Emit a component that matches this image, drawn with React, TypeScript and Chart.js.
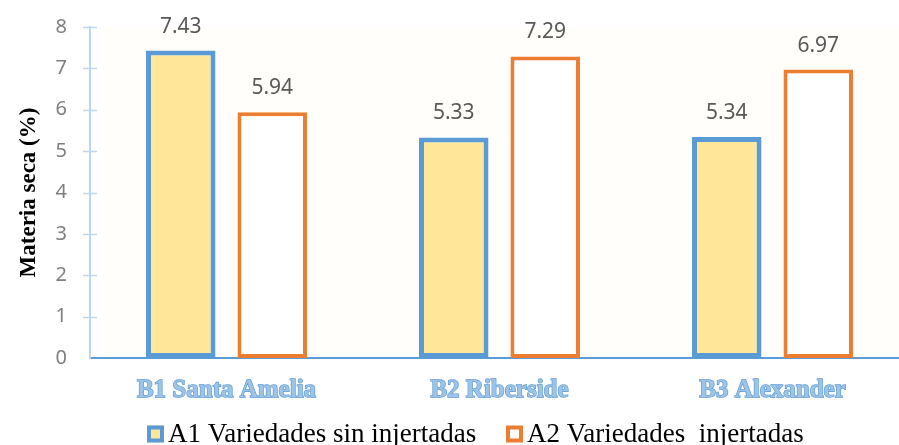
import React, { useEffect, useRef } from "react";
import { Chart, registerables } from "chart.js";

Chart.register(...registerables);

const categories = ["B1 Santa Amelia", "B2 Riberside", "B3 Alexander"];
const seriesNames = ["A1 Variedades sin injertadas", "A2 Variedades  injertadas"];
const a1Values = [7.43, 5.33, 5.34];
const a2Values = [5.94, 7.29, 6.97];
const yTicks = [0, 1, 2, 3, 4, 5, 6, 7, 8];
const yTitle = "Materia seca (%)";

const BLUE = "#5b9bd5";
const ORANGE = "#ed7d31";
const YELLOW = "#ffe699";

export default function App() {
  const ref = useRef<HTMLCanvasElement | null>(null);

  useEffect(() => {
    document.body.style.margin = "0";
    document.documentElement.style.overflow = "hidden";
    document.body.style.overflow = "hidden";
    const canvas = ref.current;
    if (!canvas) return;

    const bgPlugin = {
      id: "bg",
      beforeDraw(chart: any) {
        const { ctx, chartArea } = chart;
        ctx.save();
        ctx.fillStyle = "#fffefa";
        ctx.fillRect(chartArea.left + 14, chartArea.top, chartArea.right - chartArea.left - 14, chartArea.bottom - chartArea.top);
        ctx.restore();
      },
    };

    const tickMarks = {
      id: "tickMarks",
      afterDraw(chart: any) {
        const { ctx } = chart;
        const y = chart.scales.y;
        const x0 = chart.chartArea.left;
        ctx.save();
        ctx.strokeStyle = "#bdd7ee";
        ctx.lineWidth = 1.5;
        yTicks.forEach((v) => {
          if (v === 0) return;
          const py = Math.round(y.getPixelForValue(v)) + 0.5;
          ctx.beginPath();
          ctx.moveTo(x0 - 7, py);
          ctx.lineTo(x0 + 7, py);
          ctx.stroke();
        });
        ctx.restore();
      },
    };

    const dataLabels = {
      id: "dataLabels",
      afterDatasetsDraw(chart: any) {
        const { ctx } = chart;
        ctx.save();
        ctx.font = "21px 'Noto Sans'";
        ctx.fillStyle = "#595959";
        ctx.textAlign = "center";
        ctx.textBaseline = "middle";
        chart.data.datasets.forEach((ds: any, i: number) => {
          const meta = chart.getDatasetMeta(i);
          meta.data.forEach((el: any, j: number) => {
            ctx.fillText(ds.data[j].toFixed(2), el.x, el.y - 24);
          });
        });
        ctx.restore();
      },
    };

    const customLegend = {
      id: "customLegend",
      afterDraw(chart: any) {
        const { ctx } = chart;
        ctx.save();
        ctx.font = "27px 'Liberation Serif'";
        ctx.textBaseline = "middle";
        ctx.textAlign = "left";
        const yc = 434;
        const starts = [147, 506];
        chart.data.datasets.forEach((ds: any, i: number) => {
          const x = starts[i];
          const s = 17;
          ctx.fillStyle = ds.backgroundColor;
          ctx.fillRect(x, yc - s / 2, s, s);
          ctx.strokeStyle = ds.borderColor;
          ctx.lineWidth = 4;
          ctx.strokeRect(x + 2, yc - s / 2 + 2, s - 4, s - 4);
          ctx.fillStyle = "#000000";
          ctx.fillText(ds.label, x + s + 4, yc + 1);
        });
        ctx.restore();
      },
    };

    const chart = new Chart(canvas, {
      type: "bar",
      data: {
        labels: categories,
        datasets: [
          {
            label: seriesNames[0],
            data: a1Values,
            backgroundColor: YELLOW,
            borderColor: BLUE,
            borderWidth: 5,
            borderSkipped: false,
            barPercentage: 0.76,
            categoryPercentage: 0.67,
          },
          {
            label: seriesNames[1],
            data: a2Values,
            backgroundColor: "#ffffff",
            borderColor: ORANGE,
            borderWidth: 4,
            borderSkipped: false,
            barPercentage: 0.76,
            categoryPercentage: 0.67,
          },
        ],
      },
      options: {
        animation: false,
        responsive: false,
        maintainAspectRatio: false,
        layout: { padding: { top: 27, right: 0, bottom: 0, left: 0 } },
        plugins: {
          legend: { display: false },
          tooltip: { enabled: false },
        },
        scales: {
          x: {
            grid: { display: false, drawTicks: false },
            border: { display: true, color: BLUE, width: 2 },
            ticks: {
              color: "#9dc3e6",
              textStrokeColor: BLUE,
              textStrokeWidth: 1.3,
              font: { family: "'Liberation Serif'", size: 25, weight: "bold" },
              padding: 18,
            },
            afterFit(scale: any) {
              scale.height = 445 - 358;
            },
          },
          y: {
            min: 0,
            max: 8,
            grid: { display: false, drawTicks: true, tickLength: 20 },
            border: { display: true, color: "#bdd7ee", width: 2 },
            ticks: {
              stepSize: 1,
              color: "#7f7f7f",
              font: { family: "'Noto Sans'", size: 20 },
              padding: 3,
            },
            title: {
              display: true,
              text: yTitle,
              color: "#000000",
              font: { family: "'Liberation Serif'", size: 23, weight: "bold" },
              padding: { top: 15, bottom: 0 },
            },
            afterFit(scale: any) {
              scale.width = 90;
            },
          },
        },
      },
      plugins: [bgPlugin, dataLabels, tickMarks, customLegend],
    } as any);

    return () => chart.destroy();
  }, []);

  return (
    <div style={{ width: 909, height: 445, overflow: "hidden" }}>
      <canvas ref={ref} width={909} height={445} style={{ display: "block" }} />
    </div>
  );
}
